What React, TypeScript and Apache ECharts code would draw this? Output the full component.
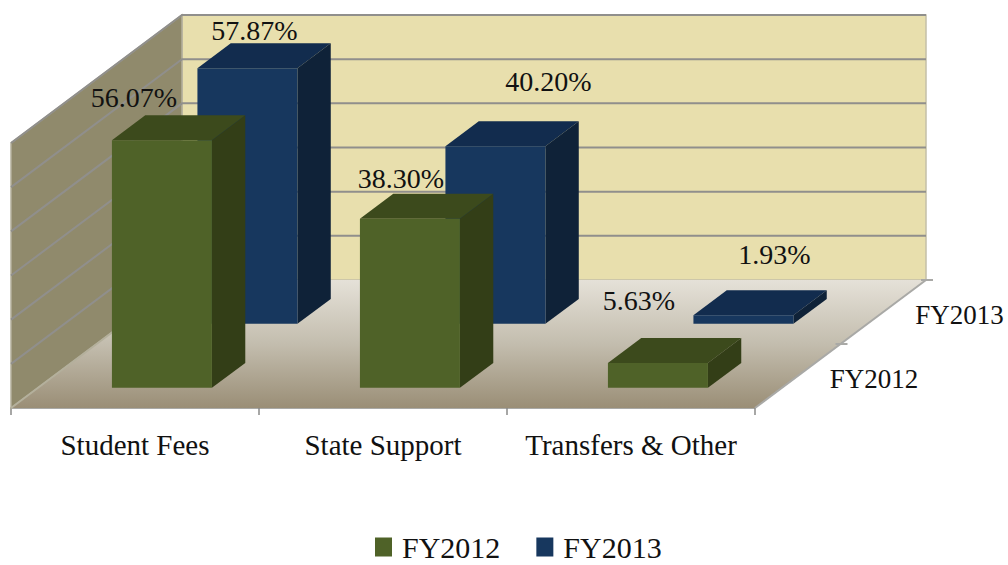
import React, { useEffect, useRef } from "react";
import * as echarts from "echarts";

const categories = ["Student Fees", "State Support", "Transfers & Other"];
const fy2012 = [56.07, 38.3, 5.63];
const fy2013 = [57.87, 40.2, 1.93];
const seriesNames = ["FY2012", "FY2013"];
const gridValues = [10, 20, 30, 40, 50, 60];
const AXIS_MAX = 60;

// label placement relative to the top-centre of each bar's front face
const labelDx2012 = [-28, -9, -19];
const labelDy2012 = [-43, -40, -62];
const labelDx2013 = [7, 53, 31];
const labelDy2013 = [-38, -65, -61];

const FONT = "Liberation Serif";
const SLOT_DX = 85.5;
const SLOT_DY = -64;
const BAR_NEAR = 0.315;
const BAR_FAR = 0.705;
const BAR_WIDTH_FRACTION = 100 / 248;

function makeProject(api: any) {
  const band = api.size([1, 0])[0];
  return (catPos: number, value: number, depth: number) => {
    const p = api.coord([0, value]);
    return [p[0] + catPos * band + depth * SLOT_DX, p[1] + depth * SLOT_DY];
  };
}

function wallItem(_params: any, api: any) {
  const P = makeProject(api);
  const L = -0.5;
  const R = 2.5;
  const children: any[] = [];
  // back wall
  children.push({
    type: "polygon",
    shape: { points: [P(L, 0, 2), P(L, AXIS_MAX, 2), P(R, AXIS_MAX, 2), P(R, 0, 2)] },
    style: { fill: "#e8dfad", stroke: "#c4c0a8", lineWidth: 1.5 },
  });
  // left wall
  children.push({
    type: "polygon",
    shape: { points: [P(L, 0, 0), P(L, AXIS_MAX, 0), P(L, AXIS_MAX, 2), P(L, 0, 2)] },
    style: { fill: "#908a6c", stroke: "#b4b09c", lineWidth: 1.5 },
  });
  // floor
  children.push({
    type: "polygon",
    shape: { points: [P(L, 0, 0), P(L, 0, 2), P(R, 0, 2), P(R, 0, 0)] },
    style: {
      fill: new echarts.graphic.LinearGradient(0, 0, 0, 1, [
        { offset: 0, color: "#e5e1d8" },
        { offset: 0.5, color: "#c3bdae" },
        { offset: 1, color: "#9a8e76" },
      ]),
    },
  });
  gridValues.forEach((v) => {
    const a = P(L, v, 0);
    const b = P(L, v, 2);
    const c = P(R, v, 2);
    children.push({
      type: "polyline",
      shape: { points: [a, b, c] },
      style: { fill: "none", stroke: "#908f8c", lineWidth: 2 },
    });
  });
  // floor's side edges and depth ticks
  const edge = { stroke: "#a9a9a6", lineWidth: 2, fill: "none" };
  children.push({ type: "polyline", shape: { points: [P(L, 0, 0), P(L, 0, 2)] }, style: { ...edge, stroke: "#b4b09c" } });
  children.push({ type: "polyline", shape: { points: [P(R, 0, 0), P(R, 0, 2)] }, style: edge });
  [1, 2].forEach((d) => {
    const a = P(R, 0, d);
    children.push({
      type: "polyline",
      shape: { points: [[a[0] - 5, a[1]], [a[0] + 7, a[1]]] },
      style: edge,
    });
  });
  // depth-axis labels
  seriesNames.forEach((name, i) => {
    const a = P(R, 0, i + 0.5);
    children.push({
      type: "text",
      x: a[0] + 32,
      y: a[1] + 3,
      style: {
        text: name,
        fill: "#111",
        font: `27px "${FONT}"`,
        align: "left",
        verticalAlign: "middle",
      },
    });
  });
  return { type: "group", children };
}

function barRenderer(
  depthSlot: number,
  colors: { front: string; top: string; side: string },
  dx: number[],
  dy: number[],
) {
  return (_params: any, api: any) => {
    const cat = api.value(0) as number;
    const val = api.value(1) as number;
    const P = makeProject(api);
    const hw = BAR_WIDTH_FRACTION / 2;
    const near = depthSlot + BAR_NEAR;
    const far = depthSlot + BAR_FAR;
    const left = cat - hw;
    const right = cat + hw;
    const f = (c: number, v: number, d: number) => P(c, v, d);
    const labelPos = f(cat, val, near);
    return {
      type: "group",
      children: [
        {
          type: "polygon",
          shape: { points: [f(left, val, near), f(left, val, far), f(right, val, far), f(right, val, near)] },
          style: { fill: colors.top },
        },
        {
          type: "polygon",
          shape: { points: [f(right, 0, near), f(right, val, near), f(right, val, far), f(right, 0, far)] },
          style: { fill: colors.side },
        },
        {
          type: "polygon",
          shape: { points: [f(left, 0, near), f(left, val, near), f(right, val, near), f(right, 0, near)] },
          style: { fill: colors.front },
        },
        {
          type: "text",
          x: labelPos[0] + dx[cat],
          y: labelPos[1] + dy[cat],
          style: {
            text: val.toFixed(2) + "%",
            fill: "#111",
            font: `28px "${FONT}"`,
            align: "center",
            verticalAlign: "middle",
          },
        },
      ],
    };
  };
}

export default function App() {
  const ref = useRef<HTMLDivElement>(null);
  useEffect(() => {
    document.body.style.margin = "0";
    const chart = echarts.init(ref.current!, undefined, { renderer: "svg" });
    chart.setOption({
      animation: false,
      backgroundColor: "#ffffff",
      textStyle: { fontFamily: FONT },
      grid: { left: 11, top: 143, width: 744, height: 265 },
      legend: {
        left: 375,
        top: 532,
        padding: 0,
        data: seriesNames,
        icon: "rect",
        itemWidth: 17,
        itemHeight: 19,
        itemGap: 36,
        textStyle: { fontSize: 30, fontFamily: FONT, color: "#111", padding: [0, 0, 0, 5] },
      },
      xAxis: {
        type: "category",
        data: categories,
        axisLine: { lineStyle: { color: "#a9a9a6", width: 2 } },
        axisTick: { show: true, length: 7, lineStyle: { color: "#8a8a88", width: 1.5 } },
        axisLabel: { fontFamily: FONT, fontSize: 29, color: "#111", margin: 22, interval: 0 },
      },
      yAxis: {
        type: "value",
        min: 0,
        max: AXIS_MAX,
        interval: 10,
        show: false,
        splitLine: { show: false },
      },
      series: [
        {
          type: "custom",
          name: seriesNames[0],
          z: 4,
          silent: true,
          itemStyle: { color: "#4f6228" },
          encode: { x: 0, y: 1 },
          data: fy2012.map((v, i) => [i, v]),
          renderItem: barRenderer(0, { front: "#4f6228", top: "#3c4a1c", side: "#333e17" }, labelDx2012, labelDy2012),
        },
        {
          type: "custom",
          name: seriesNames[1],
          z: 3,
          silent: true,
          itemStyle: { color: "#17375e" },
          encode: { x: 0, y: 1 },
          data: fy2013.map((v, i) => [i, v]),
          renderItem: barRenderer(1, { front: "#17375e", top: "#122c4e", side: "#0f2238" }, labelDx2013, labelDy2013),
        },
        {
          type: "custom",
          name: "walls",
          z: 1,
          silent: true,
          encode: { x: 0, y: 1 },
          data: [[0, 0]],
          renderItem: wallItem,
        },
      ],
    });
    return () => chart.dispose();
  }, []);
  return <div ref={ref} style={{ width: 1008, height: 565 }} />;
}
